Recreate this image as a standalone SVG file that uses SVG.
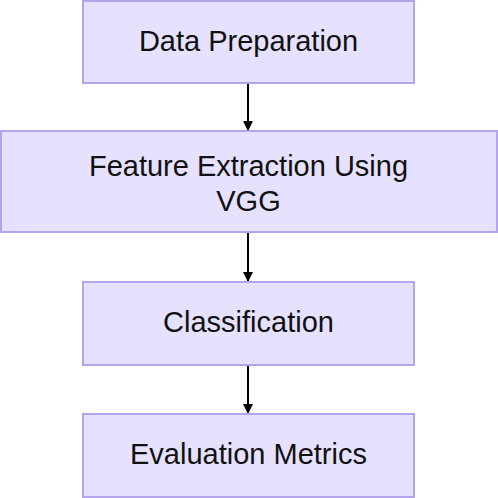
<svg xmlns="http://www.w3.org/2000/svg" width="498" height="498" viewBox="0 0 498 498">
<defs>
<style>
.box{fill:#E6E1FF;stroke:#B3A4EC;stroke-width:2}
.lbl{font-family:"Liberation Sans",Arial,sans-serif;font-size:29px;fill:#111;text-anchor:middle}
.edge{stroke:#000;stroke-width:2;fill:none}
</style>
<marker id="ah" markerWidth="10" markerHeight="10" refX="9" refY="5" orient="auto" markerUnits="userSpaceOnUse">
<path d="M0,0 L10,5 L0,10 z" fill="#000"/>
</marker>
</defs>
<rect width="498" height="498" fill="#fff"/>
<g id="edges">
<line class="edge" x1="248" y1="83" x2="248" y2="130" marker-end="url(#ah)"/>
<line class="edge" x1="248" y1="232" x2="248" y2="281" marker-end="url(#ah)"/>
<line class="edge" x1="248" y1="365" x2="248" y2="413" marker-end="url(#ah)"/>
</g>
<g id="n1">
<rect class="box" x="83" y="1" width="331" height="82"/>
<text class="lbl" x="248.5" y="51">Data Preparation</text>
</g>
<g id="n2">
<rect class="box" x="1" y="131" width="496" height="101"/>
<text class="lbl" x="248.5" y="176">Feature Extraction Using</text>
<text class="lbl" x="248.5" y="211">VGG</text>
</g>
<g id="n3">
<rect class="box" x="83" y="282" width="331" height="83"/>
<text class="lbl" x="248.5" y="332">Classification</text>
</g>
<g id="n4">
<rect class="box" x="83" y="414" width="331" height="83"/>
<text class="lbl" x="248.5" y="464">Evaluation Metrics</text>
</g>
</svg>
